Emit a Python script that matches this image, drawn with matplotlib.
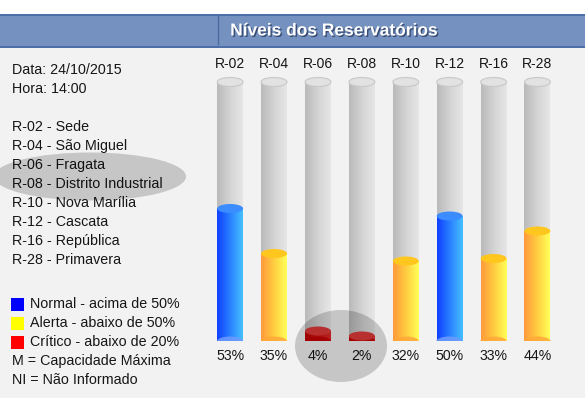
import numpy as np
import matplotlib
matplotlib.use("Agg")
import matplotlib.pyplot as plt
import matplotlib.patheffects as pe
from matplotlib.patches import Ellipse, Rectangle
from matplotlib.colors import LinearSegmentedColormap

plt.rcParams["font.family"] = ["Liberation Sans", "DejaVu Sans"]

# data
codes = ["R-02", "R-04", "R-06", "R-08", "R-10", "R-12", "R-16", "R-28"]
names = ["Sede", "São Miguel", "Fragata", "Distrito Industrial",
         "Nova Marília", "Cascata", "República", "Primavera"]
levels = [53, 35, 4, 2, 32, 50, 33, 44]
data_txt = "Data: 24/10/2015"
hora_txt = "Hora: 14:00"
legend_items = [("#0000ff", "Normal - acima de 50%"),
                ("#ffff00", "Alerta - abaixo de 50%"),
                ("#ff0000", "Crítico - abaixo de 20%")]
notes = ["M = Capacidade Máxima", "NI = Não Informado"]

TXT = "#161616"
BG = "#f2f2f2"

# colour scheme per state: body gradient (left->right), top cap, bottom cap
STYLES = {
    "blue":   (["#1040ff", "#2a80ff", "#45c0ff"], "#3a8cff", "#6e9cff"),
    "yellow": (["#ff9a3c", "#ffcc40", "#ffff58"], "#ffc61e", "#ffa838"),
    "red":    (["#c20000", "#d41414", "#e02a2a"], "#e03a3a", "#c80000"),
}
GRAY = ["#bababa", "#d4d4d4", "#e6e6e6"]


def state(v):
    if v >= 50:
        return "blue"
    if v >= 20:
        return "yellow"
    return "red"


W, H = 585, 398
fig = plt.figure(figsize=(W / 100, H / 100), dpi=100, facecolor=BG)

# background / page layer in pixel coords
bg = fig.add_axes([0, 0, 1, 1])
bg.set_xlim(0, W); bg.set_ylim(H, 0); bg.axis("off")
bg.add_patch(Rectangle((0, 0), W, 14, color="white", lw=0))
bg.add_patch(Rectangle((0, 14), W, 33.5, facecolor="#7591bf", edgecolor="none"))
bg.plot([0, W], [14.5, 14.5], color="#4668a3", lw=1.2)
bg.plot([0, W], [47.3, 47.3], color="#4668a3", lw=1.2)
bg.plot([217.5, 217.5], [15, 44], color="#4a6aa3", lw=1.0)
bg.text(334, 31, "Níveis dos Reservatórios", color="white", fontsize=12.5,
        fontweight="bold", ha="center", va="center",
        path_effects=[pe.SimplePatchShadow(offset=(1, -1), shadow_rgbFace="#1e2f55", alpha=0.7),
                      pe.Normal()])

fs = 10.3
bg.text(12, 70, data_txt, fontsize=fs, color=TXT, va="center")
bg.text(12, 89, hora_txt, fontsize=fs, color=TXT, va="center")
for i, (c, n) in enumerate(zip(codes, names)):
    bg.text(12, 127 + 19 * i, f"{c} - {n}", fontsize=fs, color=TXT, va="center")
for i, (col, lab) in enumerate(legend_items):
    y = 304 + 19 * i
    bg.add_patch(Rectangle((11, y - 6.5), 13, 13, color=col, lw=0))
    bg.text(30.5, y, lab, fontsize=fs, color=TXT, va="center")
for i, n in enumerate(notes):
    bg.text(12, 361 + 19 * i, n, fontsize=fs, color=TXT, va="center")

# cylinder chart
x0, x1 = 208.2, 559.4
yb, yt = 341, 341 - 2.5 * 110
ax = fig.add_axes([x0 / W, (H - yb) / H, (x1 - x0) / W, (yb - yt) / H])
ax.set_facecolor("none")
ax.axis("off")

x = np.arange(len(codes))
w = 0.59
cap = 3.6          # ellipse height in % units
full = 103.6
grad = np.linspace(0, 1, 64).reshape(1, -1)

gray_bars = ax.bar(x, [full] * len(x), width=w, color="none", lw=0)
for b in gray_bars:
    cm = LinearSegmentedColormap.from_list("g", GRAY)
    ax.imshow(grad, extent=[b.get_x(), b.get_x() + b.get_width(), 0, b.get_height()],
              cmap=cm, aspect="auto", zorder=1, interpolation="bicubic")
    ax.add_patch(Ellipse((b.get_x() + w / 2, b.get_height()), w, cap,
                         facecolor="#e2e2e2", edgecolor="#c8c8c8", lw=0.8, zorder=2))

fill_bars = ax.bar(x, levels, width=w, color="none", lw=0)
for b, v in zip(fill_bars, levels):
    body, top, bot = STYLES[state(v)]
    cm = LinearSegmentedColormap.from_list("f", body)
    cx = b.get_x() + w / 2
    ax.add_patch(Ellipse((cx, 0), w, cap, facecolor=body[0], lw=0, zorder=3))
    ax.imshow(grad, extent=[b.get_x(), b.get_x() + b.get_width(), 0, b.get_height()],
              cmap=cm, aspect="auto", zorder=4, interpolation="bicubic")
    ax.add_patch(Ellipse((cx, 0), w, cap, facecolor=bot, lw=0, zorder=5, alpha=0.85))
    ax.add_patch(Ellipse((cx, b.get_height()), w, cap, facecolor=top, lw=0, zorder=6))

for xi, c, v in zip(x, codes, levels):
    ax.text(xi, 110.8, c, ha="center", va="center", fontsize=10, color=TXT)
    ax.text(xi, -6, f"{v}%", ha="center", va="center", fontsize=10.2, color=TXT)

ax.set_xlim(-0.5, len(codes) - 0.5)
ax.set_ylim(0, 110)

# highlight overlays
ov = fig.add_axes([0, 0, 1, 1], zorder=10)
ov.set_facecolor("none")
ov.set_xlim(0, W); ov.set_ylim(H, 0); ov.axis("off")
ov.add_patch(Ellipse((90, 176.5), 192, 48, facecolor="black", alpha=0.18, lw=0))
ov.add_patch(Ellipse((341, 346), 92, 72, facecolor="black", alpha=0.18, lw=0))

fig.savefig("out.png", dpi=100, facecolor=fig.get_facecolor())
